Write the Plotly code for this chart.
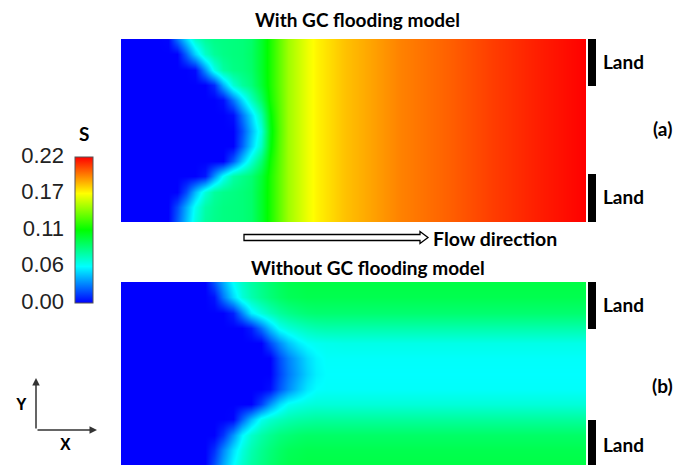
import plotly.graph_objects as go

W, H = 688, 465

# Grid of the saturation field: x along the flow, y across the channel
x_pos = [0, 4, 8, 10, 12, 14, 16, 18, 20, 22, 24, 26, 28, 30, 32, 34, 36, 38, 40, 42, 44, 48, 54, 60, 70, 80, 90, 100]
y_pos = [0, 3, 6, 9, 12, 15, 18, 21, 24, 27, 30, 33, 36]

# (a) with GC flooding model, rows from y = 0 upward
s_with_gc = [
    [0, 0, 0, 0, 0.020, 0.041, 0.062, 0.076, 0.080, 0.082, 0.083, 0.084, 0.087, 0.100, 0.115, 0.130, 0.144, 0.153, 0.161, 0.167, 0.171, 0.178, 0.185, 0.192, 0.199, 0.207, 0.214, 0.220],
    [0, 0, 0, 0, 0.016, 0.037, 0.058, 0.074, 0.079, 0.082, 0.083, 0.084, 0.087, 0.100, 0.115, 0.130, 0.144, 0.153, 0.161, 0.167, 0.171, 0.178, 0.185, 0.192, 0.199, 0.207, 0.214, 0.220],
    [0, 0, 0, 0, 0, 0.016, 0.040, 0.063, 0.076, 0.080, 0.082, 0.084, 0.087, 0.100, 0.115, 0.130, 0.144, 0.153, 0.161, 0.167, 0.171, 0.178, 0.185, 0.192, 0.199, 0.207, 0.214, 0.220],
    [0, 0, 0, 0, 0, 0, 0, 0.005, 0.031, 0.056, 0.074, 0.080, 0.085, 0.098, 0.115, 0.130, 0.144, 0.153, 0.161, 0.167, 0.171, 0.178, 0.185, 0.192, 0.199, 0.207, 0.214, 0.220],
    [0, 0, 0, 0, 0, 0, 0, 0, 0, 0, 0.020, 0.043, 0.064, 0.085, 0.112, 0.129, 0.144, 0.153, 0.161, 0.167, 0.171, 0.178, 0.185, 0.192, 0.199, 0.207, 0.214, 0.220],
    [0, 0, 0, 0, 0, 0, 0, 0, 0, 0, 0, 0.021, 0.044, 0.068, 0.107, 0.128, 0.144, 0.153, 0.161, 0.167, 0.171, 0.178, 0.185, 0.192, 0.199, 0.207, 0.214, 0.220],
    [0, 0, 0, 0, 0, 0, 0, 0, 0, 0, 0, 0.017, 0.039, 0.062, 0.105, 0.127, 0.144, 0.153, 0.161, 0.167, 0.171, 0.178, 0.185, 0.192, 0.199, 0.207, 0.214, 0.220],
    [0, 0, 0, 0, 0, 0, 0, 0, 0, 0, 0.003, 0.025, 0.046, 0.072, 0.108, 0.128, 0.144, 0.153, 0.161, 0.167, 0.171, 0.178, 0.185, 0.192, 0.199, 0.207, 0.214, 0.220],
    [0, 0, 0, 0, 0, 0, 0, 0, 0, 0.003, 0.025, 0.047, 0.068, 0.088, 0.113, 0.129, 0.144, 0.153, 0.161, 0.167, 0.171, 0.178, 0.185, 0.192, 0.199, 0.207, 0.214, 0.220],
    [0, 0, 0, 0, 0, 0, 0, 0, 0.009, 0.038, 0.064, 0.076, 0.083, 0.098, 0.115, 0.130, 0.144, 0.153, 0.161, 0.167, 0.171, 0.178, 0.185, 0.192, 0.199, 0.207, 0.214, 0.220],
    [0, 0, 0, 0, 0, 0, 0.002, 0.031, 0.059, 0.075, 0.081, 0.083, 0.087, 0.100, 0.115, 0.130, 0.144, 0.153, 0.161, 0.167, 0.171, 0.178, 0.185, 0.192, 0.199, 0.207, 0.214, 0.220],
    [0, 0, 0, 0, 0, 0.021, 0.045, 0.067, 0.077, 0.081, 0.083, 0.084, 0.088, 0.100, 0.115, 0.130, 0.144, 0.153, 0.161, 0.167, 0.171, 0.178, 0.185, 0.192, 0.199, 0.207, 0.214, 0.220],
    [0, 0, 0, 0.001, 0.024, 0.046, 0.067, 0.077, 0.081, 0.082, 0.083, 0.084, 0.087, 0.100, 0.115, 0.130, 0.144, 0.153, 0.161, 0.167, 0.171, 0.178, 0.185, 0.192, 0.199, 0.207, 0.214, 0.220],
]

# (b) without GC flooding model, rows from y = 0 upward
s_without_gc = [
    [0, 0, 0, 0, 0, 0, 0, 0, 0.017, 0.036, 0.054, 0.066, 0.075, 0.081, 0.086, 0.090, 0.093, 0.094, 0.095, 0.095, 0.095, 0.095, 0.095, 0.095, 0.095, 0.095, 0.095, 0.095],
    [0, 0, 0, 0, 0, 0, 0, 0, 0.010, 0.029, 0.048, 0.062, 0.072, 0.079, 0.084, 0.088, 0.091, 0.092, 0.093, 0.093, 0.093, 0.093, 0.093, 0.093, 0.093, 0.093, 0.093, 0.093],
    [0, 0, 0, 0, 0, 0, 0, 0, 0, 0.011, 0.032, 0.053, 0.066, 0.074, 0.079, 0.083, 0.085, 0.087, 0.088, 0.088, 0.088, 0.088, 0.088, 0.088, 0.088, 0.088, 0.088, 0.088],
    [0, 0, 0, 0, 0, 0, 0, 0, 0, 0, 0.001, 0.021, 0.040, 0.058, 0.065, 0.069, 0.072, 0.074, 0.075, 0.076, 0.076, 0.076, 0.076, 0.076, 0.076, 0.076, 0.076, 0.076],
    [0, 0, 0, 0, 0, 0, 0, 0, 0, 0, 0, 0, 0, 0.014, 0.032, 0.047, 0.057, 0.060, 0.062, 0.063, 0.063, 0.063, 0.063, 0.063, 0.063, 0.063, 0.063, 0.063],
    [0, 0, 0, 0, 0, 0, 0, 0, 0, 0, 0, 0, 0, 0, 0.003, 0.018, 0.030, 0.041, 0.050, 0.055, 0.056, 0.056, 0.056, 0.056, 0.056, 0.056, 0.056, 0.056],
    [0, 0, 0, 0, 0, 0, 0, 0, 0, 0, 0, 0, 0, 0, 0, 0.014, 0.026, 0.036, 0.045, 0.052, 0.055, 0.055, 0.055, 0.055, 0.055, 0.055, 0.055, 0.055],
    [0, 0, 0, 0, 0, 0, 0, 0, 0, 0, 0, 0, 0, 0, 0, 0.016, 0.028, 0.038, 0.047, 0.053, 0.056, 0.056, 0.056, 0.056, 0.056, 0.056, 0.056, 0.056],
    [0, 0, 0, 0, 0, 0, 0, 0, 0, 0, 0, 0, 0, 0, 0.016, 0.030, 0.042, 0.051, 0.056, 0.058, 0.059, 0.060, 0.060, 0.060, 0.060, 0.060, 0.060, 0.060],
    [0, 0, 0, 0, 0, 0, 0, 0, 0, 0, 0, 0, 0.006, 0.024, 0.042, 0.057, 0.063, 0.067, 0.070, 0.072, 0.073, 0.073, 0.073, 0.073, 0.073, 0.073, 0.073, 0.073],
    [0, 0, 0, 0, 0, 0, 0, 0, 0, 0, 0.007, 0.029, 0.051, 0.062, 0.070, 0.076, 0.080, 0.083, 0.085, 0.086, 0.086, 0.086, 0.086, 0.086, 0.086, 0.086, 0.086, 0.086],
    [0, 0, 0, 0, 0, 0, 0, 0, 0.004, 0.026, 0.047, 0.063, 0.072, 0.079, 0.084, 0.088, 0.091, 0.092, 0.093, 0.093, 0.093, 0.093, 0.093, 0.093, 0.093, 0.093, 0.093, 0.093],
    [0, 0, 0, 0, 0, 0, 0, 0, 0.018, 0.037, 0.056, 0.067, 0.075, 0.081, 0.086, 0.090, 0.093, 0.094, 0.095, 0.095, 0.095, 0.095, 0.095, 0.095, 0.095, 0.095, 0.095, 0.095],
]

# Colour bar ticks for saturation S
cbar_ticks = [0.0, 0.055, 0.11, 0.165, 0.22]
cbar_labels = ["0.00", "0.06", "0.11", "0.17", "0.22"]

rainbow = [[0.0, "#0000ff"], [0.25, "#00ffff"], [0.5, "#00ff00"], [0.75, "#ffff00"], [1.0, "#ff0000"]]

TXT_FONT = "Lato"
NUM_FONT = "Liberation Sans"


def fx(p):
    return p / W


def fy(p):
    return 1 - p / H


fig = go.Figure()
fig.add_trace(go.Heatmap(x=x_pos, y=y_pos, z=s_with_gc, coloraxis="coloraxis",
                         zsmooth="best", xaxis="x", yaxis="y", hoverinfo="skip"))
fig.add_trace(go.Heatmap(x=x_pos, y=y_pos, z=s_without_gc, coloraxis="coloraxis",
                         zsmooth="best", xaxis="x2", yaxis="y2", hoverinfo="skip"))
# Empty trace carrying the scale axis that labels the colour bar on its left
fig.add_trace(go.Scatter(x=[None], y=[None], xaxis="x3", yaxis="y3",
                         mode="markers", hoverinfo="skip", showlegend=False))

hidden = dict(visible=False, showgrid=False, zeroline=False, fixedrange=True, automargin=False)
left, right = 121, 586
bar_x0, bar_top, bar_bot = 75, 157, 303
fig.update_layout(
    width=W, height=H,
    margin=dict(l=0, r=0, t=0, b=0, autoexpand=False),
    paper_bgcolor="white", plot_bgcolor="white",
    showlegend=False,
    xaxis=dict(domain=[fx(left), fx(right)], range=[0, 100], anchor="y", **hidden),
    yaxis=dict(domain=[fy(222), fy(39)], range=[0, 36], anchor="x", **hidden),
    xaxis2=dict(domain=[fx(left), fx(right)], range=[0, 100], anchor="y2", **hidden),
    yaxis2=dict(domain=[0, fy(282)], range=[0, 36], anchor="x2", **hidden),
    xaxis3=dict(domain=[fx(bar_x0), fx(bar_x0 + 18)], range=[0, 1], anchor="y3", **hidden),
    yaxis3=dict(domain=[fy(301), fy(155)], range=[0, 0.22], anchor="free", position=fx(bar_x0),
                side="left", tickvals=cbar_ticks, ticktext=cbar_labels,
                ticks="", showline=False, showgrid=False, zeroline=False, fixedrange=True,
                automargin=False, ticklabelstandoff=11,
                tickfont=dict(family=NUM_FONT, size=22, color="#222")),
    coloraxis=dict(
        cmin=0, cmax=0.22, colorscale=rainbow,
        colorbar=dict(
            x=fx(bar_x0), xanchor="left", y=fy((bar_top + bar_bot) / 2), yanchor="middle",
            len=(bar_bot - bar_top) / H, lenmode="fraction", thickness=18, thicknessmode="pixels",
            showticklabels=False, ticks="",
            outlinewidth=1, outlinecolor="#555", xpad=0, ypad=0,
        ),
    ),
)

shapes = []
# Land markers beside each panel
for y0, y1 in [(39, 86), (174, 222), (282, 329), (420, 465)]:
    shapes.append(dict(type="rect", xref="paper", yref="paper",
                       x0=fx(588), x1=fx(596), y0=fy(y1), y1=fy(y0),
                       fillcolor="black", line=dict(width=0)))

# Hollow flow-direction arrow
arrow_pts = [(244, 234.5), (420, 234.5), (420, 231.5), (428, 237.5),
             (420, 243.5), (420, 240.5), (244, 240.5)]
path = "M " + " L ".join(f"{fx(px):.5f},{fy(py):.5f}" for px, py in arrow_pts) + " Z"
shapes.append(dict(type="path", xref="paper", yref="paper", path=path,
                   fillcolor="white", line=dict(color="black", width=1.3)))
fig.update_layout(shapes=shapes)


def label(text, px, py, size=19, bold=True, family=TXT_FONT, xanchor="center"):
    fig.add_annotation(text=text, x=fx(px), y=fy(py), xref="paper", yref="paper",
                       showarrow=False, xanchor=xanchor, yanchor="middle",
                       font=dict(family=family, size=size, color="black",
                                 weight="bold" if bold else "normal"))


label("With GC flooding model", 357, 20)
label("Without GC flooding model", 368, 267)
label("Flow direction", 431, 238, size=19.5, xanchor="left")
for yy in (61, 197, 304, 444):
    label("Land", 601, yy, xanchor="left")
label("(a)", 662, 128)
label("(b)", 662, 385)
label("S", 84, 133, size=19)
label("Y", 21, 404, size=16, family=NUM_FONT)
label("X", 65, 444, size=16, family=NUM_FONT)

# Coordinate axes indicator
for hx, hy, ax, ay in [(36, 378, 0, 52), (97, 430, -61, 0)]:
    fig.add_annotation(text="", x=fx(hx), y=fy(hy), xref="paper", yref="paper",
                       showarrow=True, ax=ax, ay=ay, arrowhead=2, arrowsize=1,
                       arrowwidth=1.5, arrowcolor="#333", standoff=0)

fig.write_html("out.html")
